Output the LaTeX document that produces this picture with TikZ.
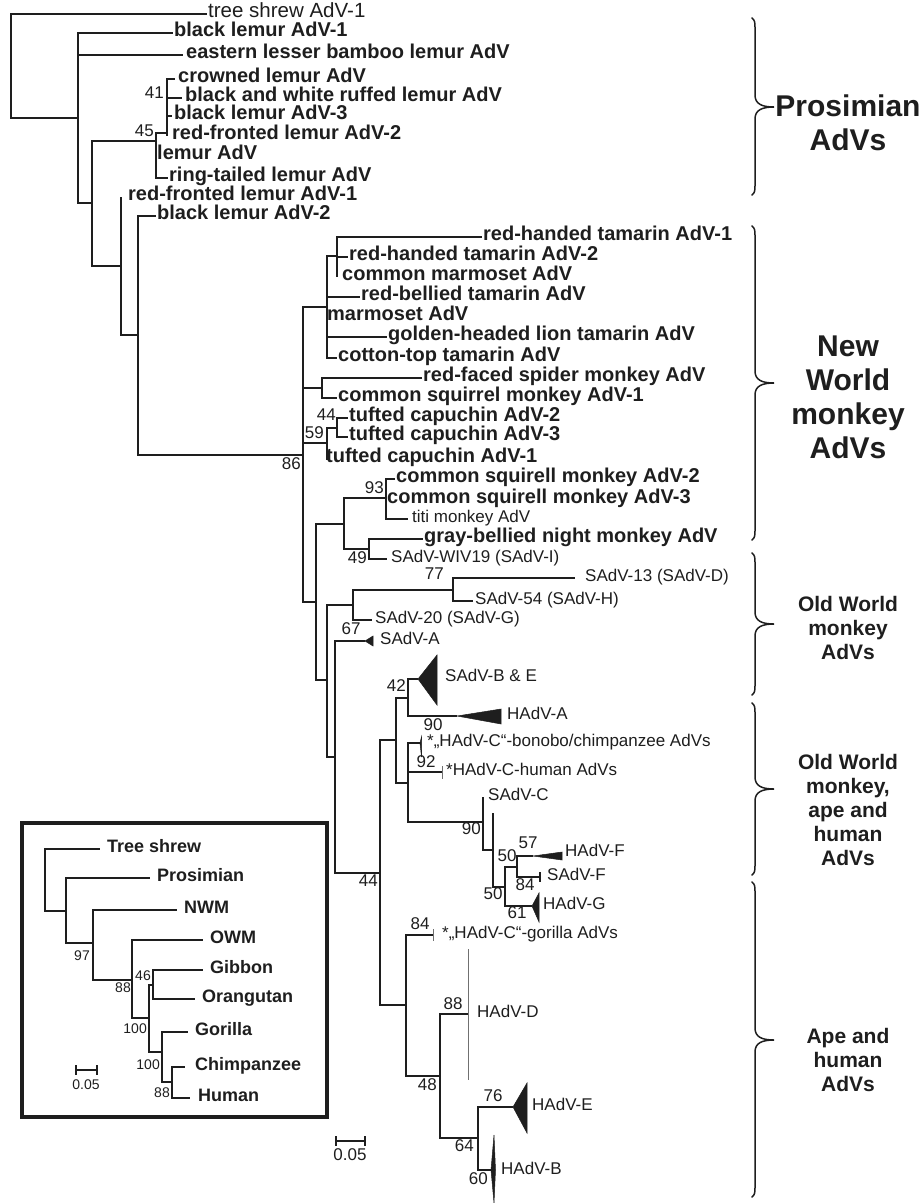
\documentclass[tikz,border=0pt]{standalone}
\usepackage{fontspec}
\setmainfont{Liberation Sans}
\definecolor{advInk}{HTML}{1E1E1E}
\definecolor{advGray}{HTML}{707070}
\tikzset{
  adv branch/.style={draw=advInk, line width=1.3pt},
  adv thin/.style={draw=advGray, line width=0.9pt},
  adv clade/.style={fill=advInk, draw=advInk, line width=0.5pt, line join=miter},
  adv leaf/.style={anchor=west, inner xsep=1pt, inner ysep=0pt, text height=0.72em, text depth=0pt, text=advInk, font=\fontsize{20}{20}\selectfont\bfseries},
  adv small leaf/.style={adv leaf, inner xsep=4pt, font=\fontsize{17}{17}\selectfont},
  adv boot/.style={inner sep=0pt, text height=0.72em, text depth=0pt, text=advInk, font=\fontsize{17}{17}\selectfont},
  adv inset leaf/.style={adv leaf, inner xsep=7pt, font=\fontsize{18}{18}\selectfont\bfseries},
  adv inset boot/.style={adv boot, font=\fontsize{14}{14}\selectfont},
  adv brace/.style={draw=advInk, line width=1.5pt, line cap=round},
  adv group/.style={align=center, text=advInk, inner sep=0pt, font=\fontsize{21}{24}\selectfont\bfseries},
  adv big group/.style={adv group, font=\fontsize{30}{34}\selectfont\bfseries},
  adv frame/.style={draw=advInk, line width=3.3pt},
}
% curly bracket: top, tip, bottom (y grows downwards)
\newcommand{\advbrace}[3]{%
  \draw[adv brace] (752,#1) .. controls (755,#1+3) .. (755,#1+12) -- (755,#2-12)
    .. controls (755,#2-3) and (762,#2) .. (774,#2)
    .. controls (762,#2) and (755,#2+3) .. (755,#2+12) -- (755,#3-12)
    .. controls (755,#3-3) .. (752,#3);}

\begin{document}
\begin{tikzpicture}[x=1pt, y=-1pt]
  \useasboundingbox (0,0) rectangle (921,1203);
  % ----- Prosimian AdVs -----
  \coordinate (root) at (11,66);
  \coordinate (p1) at (78,118);
  \coordinate (p2) at (92,203);
  \coordinate (p45) at (156,141);
  \coordinate (p41) at (167,133);
  \coordinate (p3) at (121,266);
  \coordinate (p4) at (138,335);
  \node[adv small leaf, inner xsep=1pt, font=\fontsize{20.5}{20.5}\selectfont] (treeShrew) at (207,14) {tree shrew AdV-1};
  \node[adv leaf] (blackLemurA) at (173,33) {black lemur AdV-1};
  \node[adv leaf, inner xsep=3pt] (easternBamboo) at (183,55) {eastern lesser bamboo lemur AdV};
  \node[adv leaf, inner xsep=3pt] (crowned) at (175,79) {crowned lemur AdV};
  \node[adv leaf, inner xsep=3pt] (bwRuffed) at (182,98) {black and white ruffed lemur AdV};
  \node[adv leaf, inner xsep=2pt] (blackLemurC) at (172,116) {black lemur AdV-3};
  \node[adv leaf, inner xsep=5pt] (redFrontedB) at (167,136) {red-fronted lemur AdV-2};
  \node[adv leaf] (lemurAdV) at (156,156) {lemur AdV};
  \node[adv leaf] (ringTailed) at (168,178) {ring-tailed lemur AdV};
  \node[adv leaf, inner xsep=7pt] (redFrontedA) at (121,197) {red-fronted lemur AdV-1};
  \node[adv leaf] (blackLemurB) at (156,216) {black lemur AdV-2};
  \draw[adv branch] (root) |- (treeShrew.west) (root) |- (p1);
  \draw[adv branch] (p1) |- (blackLemurA.west) (p1) |- (easternBamboo.west) (p1) |- (p2);
  \draw[adv branch] (p2) |- (p45) (p2) |- (p3);
  \draw[adv branch] (p45) |- (p41) (p45) |- (lemurAdV.west) (p45) |- (ringTailed.west);
  \draw[adv branch] (p41) |- (crowned.west) (p41) |- (bwRuffed.west) (p41) |- (blackLemurC.west) (p41) |- (redFrontedB.west);
  \draw[adv branch] (p3) |- (redFrontedA.west) (p3) |- (p4);
  \node[adv boot, anchor=east] (b45) at (154,133) {45};
  \node[adv boot, anchor=east] (b41) at (164,95) {41};

  % ----- New World monkey AdVs -----
  \coordinate (n86) at (303,455);
  \coordinate (nTam) at (327,307);
  \coordinate (nRH) at (337,256);
  \coordinate (nSpider) at (322,388);
  \coordinate (n59) at (327,443);
  \coordinate (n44t) at (337,428);
  \coordinate (n316) at (316,602);
  \coordinate (nSq) at (344,524);
  \coordinate (n93) at (386,498);
  \coordinate (n49) at (369,549);
  \node[adv leaf] (redHandedA) at (482,237) {red-handed tamarin AdV-1};
  \node[adv leaf] (redHandedB) at (348,257) {red-handed tamarin AdV-2};
  \node[adv leaf, inner xsep=5pt] (commonMarmoset) at (337,277) {common marmoset AdV};
  \node[adv leaf] (redBellied) at (360,297) {red-bellied tamarin AdV};
  \node[adv leaf, inner xsep=0pt] (marmoset) at (327,317) {marmoset AdV};
  \node[adv leaf] (goldenHeaded) at (387,337) {golden-headed lion tamarin AdV};
  \node[adv leaf] (cottonTop) at (337,358) {cotton-top tamarin AdV};
  \node[adv leaf] (redFaced) at (422,378) {red-faced spider monkey AdV};
  \node[adv leaf] (squirrelA) at (337,398) {common squirrel monkey AdV-1};
  \node[adv leaf] (tuftedB) at (348,418) {tufted capuchin AdV-2};
  \node[adv leaf] (tuftedC) at (348,437) {tufted capuchin AdV-3};
  \node[adv leaf, inner xsep=0pt] (tuftedA) at (326,459) {tufted capuchin AdV-1};
  \node[adv leaf] (squirellB) at (395,479) {common squirell monkey AdV-2};
  \node[adv leaf] (squirellC) at (386,500) {common squirell monkey AdV-3};
  \node[adv small leaf] (titi) at (408,519) {titi monkey AdV};
  \node[adv leaf] (grayBellied) at (423,539) {gray-bellied night monkey AdV};
  \node[adv small leaf] (wiv19) at (387,559) {SAdV-WIV19 (SAdV-I)};
  \draw[adv branch] (p4) |- (blackLemurB.west) (p4) |- (n86);
  \draw[adv branch] (n86) |- (nTam) (n86) |- (nSpider) (n86) |- (n59) (n86) |- (n316);
  \draw[adv branch] (nTam) |- (nRH) (nTam) |- (redBellied.west) (nTam) |- (marmoset.west) (nTam) |- (goldenHeaded.west) (nTam) |- (cottonTop.west);
  \draw[adv branch] (nRH) |- (redHandedA.west) (nRH) |- (redHandedB.west) (nRH) |- (commonMarmoset.west);
  \draw[adv branch] (nSpider) |- (redFaced.west) (nSpider) |- (squirrelA.west);
  \draw[adv branch] (n59) |- (n44t) (n59) |- (tuftedA.west);
  \draw[adv branch] (n44t) |- (tuftedB.west) (n44t) |- (tuftedC.west);
  \draw[adv branch] (n316) |- (nSq) (nSq) |- (n93) (nSq) |- (n49);
  \draw[adv branch] (n93) |- (squirellB.west) (n93) |- (squirellC.west) (n93) |- (titi.west);
  \draw[adv branch] (n49) |- (grayBellied.west) (n49) |- (wiv19.west);
  \node[adv boot, anchor=east] (b86) at (301,466) {86};
  \node[adv boot, anchor=east] (b44t) at (336,417) {44};
  \node[adv boot, anchor=east] (b59) at (324,435) {59};
  \node[adv boot, anchor=east] (b93) at (384,490) {93};
  \node[adv boot, anchor=east] (b49) at (367,560) {49};

  % ----- Old World monkey, ape and human AdVs -----
  \coordinate (nOW) at (327,680);
  \coordinate (nS20) at (353,605);
  \coordinate (n77) at (453,590);
  \coordinate (n67) at (335,757);
  \coordinate (saApex) at (365,641);
  \coordinate (n44) at (380,873);
  \coordinate (n396) at (396,740);
  \coordinate (n42) at (408,698);
  \coordinate (beApex) at (418,679);
  \coordinate (aApex) at (457,716);
  \coordinate (nC) at (408,783);
  \coordinate (n90) at (483,822);
  \coordinate (n50b) at (493,850);
  \coordinate (stub) at (493,813);
  \coordinate (n505) at (505,887);
  \coordinate (n57) at (517,867);
  \coordinate (fApex) at (533,856);
  \coordinate (gApex) at (532,906);
  \node[adv small leaf, inner xsep=10pt] (sadv13) at (575,578) {SAdV-13 (SAdV-D)};
  \node[adv small leaf, inner xsep=2pt] (sadv54) at (473,601) {SAdV-54 (SAdV-H)};
  \node[adv small leaf, inner xsep=3pt] (sadv20) at (372,620) {SAdV-20 (SAdV-G)};
  \node[adv small leaf, inner xsep=7pt] (sadvA) at (373,641) {SAdV-A};
  \node[adv small leaf, inner xsep=8pt] (sadvBE) at (437,678) {SAdV-B \& E};
  \node[adv small leaf, inner xsep=6pt] (hadvA) at (501,716) {HAdV-A};
  \node[adv small leaf, inner xsep=7pt] (bonobo) at (420,743) {*„HAdV-C“-bonobo/chimpanzee AdVs};
  \node[adv small leaf, inner xsep=4pt] (humanC) at (442,772) {*HAdV-C-human AdVs};
  \node[adv small leaf, inner xsep=5pt] (sadvC) at (483,797) {SAdV-C};
  \node[adv small leaf, inner xsep=3pt] (hadvF) at (562,853) {HAdV-F};
  \node[adv small leaf, inner xsep=7pt] (sadvF) at (540,877) {SAdV-F};
  \node[adv small leaf, inner xsep=4pt] (hadvG) at (539,906) {HAdV-G};
  \draw[adv branch] (n316) |- (nOW) (nOW) |- (nS20) (nOW) |- (n67);
  \draw[adv branch] (nS20) |- (n77) (nS20) |- (sadv20.west);
  \draw[adv branch] (n77) |- (sadv13.west) (n77) |- (sadv54.west);
  \draw[adv branch] (n67) |- (saApex) (n67) |- (n44);
  \draw[adv branch] (n44) |- (n396) (n396) |- (n42) (n396) |- (nC);
  \draw[adv branch] (n42) |- (beApex) (n42) |- (aApex);
  \draw[adv branch] (nC) |- (bonobo.west) (nC) |- (humanC.west) (nC) |- (n90);
  \draw[adv branch] (n90) |- (sadvC.west) (n90) |- (n50b);
  \draw[adv branch] (n50b) |- (stub) (n50b) |- (n505);
  \draw[adv branch] (n505) |- (n57) (n505) |- (gApex);
  \draw[adv branch] (n57) |- (fApex) (n57) |- (sadvF.west);
  % collapsed clades
  \fill[adv clade] (saApex) -- (373,636) -- (373,646) -- cycle;
  \fill[adv clade] (beApex) -- (437,655) -- (437,705) -- cycle;
  \fill[adv clade] (aApex) -- (501,709) -- (501,724) -- cycle;
  \fill[adv clade] (fApex) -- (562,852) -- (562,860) -- cycle;
  \fill[adv clade] (gApex) -- (539,893) -- (539,922) -- cycle;
  \fill[adv clade] (420,743) -- (421.5,737) -- (421.5,757) -- cycle;
  \draw[adv thin] (humanC.west) ++(0,-6) -- ++(0,13);
  \draw[adv branch] (sadvF.west) ++(0,-5) -- ++(0,10);
  \node[adv boot, anchor=east] (b77) at (444,576) {77};
  \node[adv boot] (b67) at (351,631) {67};
  \node[adv boot, anchor=east] (b44) at (378,883) {44};
  \node[adv boot, anchor=east] (b42) at (406,688) {42};
  \node[adv boot] (b90a) at (433,727) {90};
  \node[adv boot] (b92) at (426,764) {92};
  \node[adv boot, anchor=east] (b90) at (481,831) {90};
  \node[adv boot] (b50a) at (493,896) {50};
  \node[adv boot] (b50b) at (507,858) {50};
  \node[adv boot] (b61) at (517,915) {61};
  \node[adv boot] (b57) at (528,845) {57};
  \node[adv boot] (b84a) at (525,887) {84};

  % ----- Ape and human AdVs -----
  \coordinate (nApe) at (406,1005);
  \coordinate (n48) at (440,1076);
  \coordinate (n64) at (478,1138);
  \coordinate (eApex) at (513,1107);
  \coordinate (bApex) at (491,1170);
  \node[adv small leaf, inner xsep=9pt] (gorillaC) at (433,935) {*„HAdV-C“-gorilla AdVs};
  \node[adv small leaf, inner xsep=9pt] (hadvD) at (468,1014) {HAdV-D};
  \node[adv small leaf, inner xsep=5pt] (hadvE) at (527,1107) {HAdV-E};
  \node[adv small leaf, inner xsep=6pt] (hadvB) at (495,1171) {HAdV-B};
  \draw[adv branch] (n44) |- (nApe) (nApe) |- (gorillaC.west) (nApe) |- (n48);
  \draw[adv branch] (n48) |- (hadvD.west) (n48) |- (n64);
  \draw[adv branch] (n64) |- (eApex) (n64) |- (bApex);
  \draw[adv thin] (gorillaC.west) ++(0,-6) -- ++(0,12);
  \draw[adv thin] (468,949) -- (468,1080);
  \fill[adv clade] (eApex) -- (527,1083) -- (527,1133) -- cycle;
  \fill[adv clade] (bApex) -- (494,1135) -- (495.5,1170) -- (494,1203) -- cycle;
  \node[adv boot] (b84b) at (420,926) {84};
  \node[adv boot] (b88) at (453,1006) {88};
  \node[adv boot, anchor=east] (b48) at (437,1087) {48};
  \node[adv boot] (b76) at (493,1098) {76};
  \node[adv boot, anchor=east] (b64) at (474,1148) {64};
  \node[adv boot, anchor=east] (b60) at (488,1181) {60};
  % scale bar
  \draw[adv branch] (336,1136) -- (336,1146) (336,1141) -- (365,1141) (365,1136) -- (365,1146);
  \node[adv boot] (scaleMain) at (350,1157) {0.05};

  % ----- inset: host tree -----
  \draw[adv frame] (22,823) rectangle (327,1117);
  \coordinate (iRoot) at (45,880);
  \coordinate (iP1) at (66,911);
  \coordinate (i97) at (93,943);
  \coordinate (i88) at (132,980);
  \coordinate (i100a) at (149,1018);
  \coordinate (i46) at (153,985);
  \coordinate (i100b) at (162,1052);
  \coordinate (i88b) at (172,1082);
  \node[adv inset leaf] (shrewI) at (100,849) {Tree shrew};
  \node[adv inset leaf] (prosimianI) at (150,878) {Prosimian};
  \node[adv inset leaf] (nwmI) at (177,910) {NWM};
  \node[adv inset leaf] (owmI) at (203,940) {OWM};
  \node[adv inset leaf] (gibbonI) at (203,970) {Gibbon};
  \node[adv inset leaf] (orangutanI) at (195,999) {Orangutan};
  \node[adv inset leaf] (gorillaI) at (188,1032) {Gorilla};
  \node[adv inset leaf, inner xsep=10pt] (chimpI) at (185,1067) {Chimpanzee};
  \node[adv inset leaf, inner xsep=8pt] (humanI) at (190,1098) {Human};
  \draw[adv branch] (iRoot) |- (shrewI.west) (iRoot) |- (iP1);
  \draw[adv branch] (iP1) |- (prosimianI.west) (iP1) |- (i97);
  \draw[adv branch] (i97) |- (nwmI.west) (i97) |- (i88);
  \draw[adv branch] (i88) |- (owmI.west) (i88) |- (i100a);
  \draw[adv branch] (i100a) |- (i46) (i100a) |- (i100b);
  \draw[adv branch] (i46) |- (gibbonI.west) (i46) |- (orangutanI.west);
  \draw[adv branch] (i100b) |- (gorillaI.west) (i100b) |- (i88b);
  \draw[adv branch] (i88b) |- (chimpI.west) (i88b) |- (humanI.west);
  \node[adv inset boot, anchor=east] (bi97) at (90,957) {97};
  \node[adv inset boot, anchor=east] (bi88) at (131,989) {88};
  \node[adv inset boot, anchor=east] (bi46) at (151,977) {46};
  \node[adv inset boot, anchor=east] (bi100a) at (147,1030) {100};
  \node[adv inset boot, anchor=east] (bi100b) at (160,1066) {100};
  \node[adv inset boot, anchor=east] (bi88b) at (170,1094) {88};
  \draw[adv branch] (76,1065) -- (76,1075) (76,1070) -- (97,1070) (97,1065) -- (97,1075);
  \node[adv inset boot] (scaleInset) at (86,1086) {0.05};

  % ----- clade brackets -----
  \advbrace{18}{107}{195}
  \advbrace{226}{383}{540}
  \advbrace{553}{624}{695}
  \advbrace{703}{789}{875}
  \advbrace{882}{1040}{1197}
  \node[adv big group] (grpProsimian) at (848,123) {Prosimian\\AdVs};
  \node[adv big group] (grpNWM) at (848,397) {New\\World\\monkey\\AdVs};
  \node[adv group] (grpOWM) at (848,628) {Old World\\monkey\\AdVs};
  \node[adv group] (grpOWMAH) at (848,810) {Old World\\monkey,\\ape and\\human\\AdVs};
  \node[adv group] (grpApe) at (848,1060) {Ape and\\human\\AdVs};
\end{tikzpicture}
\end{document}
